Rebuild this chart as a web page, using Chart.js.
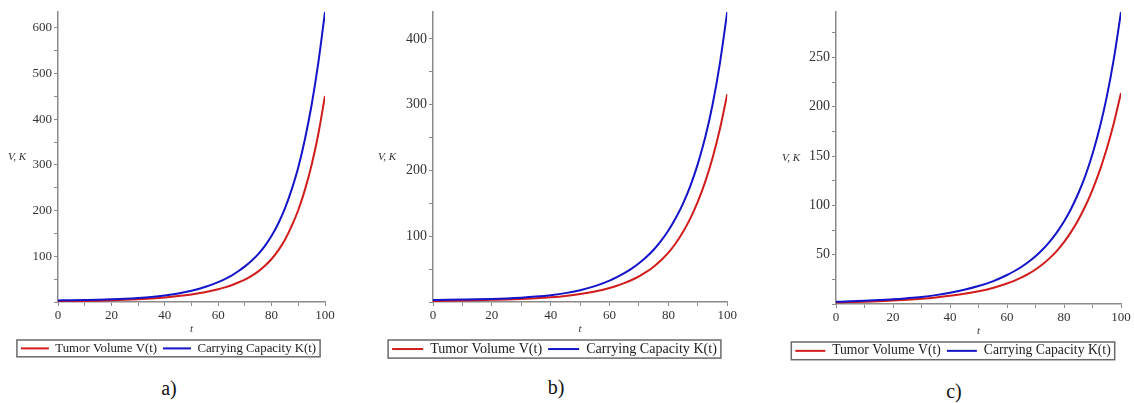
<!DOCTYPE html>
<html>
<head>
<meta charset="utf-8">
<script src="https://cdn.jsdelivr.net/npm/chart.js@4/dist/chart.umd.min.js"></script>
<style>
  body { margin: 0; background: #fff; width: 1134px; height: 403px; position: relative; overflow: hidden; font-family: "Liberation Serif", serif; }
  .panel { position: absolute; top: 0; }
  .caption { position: absolute; width: 40px; text-align: center; font-size: 20px; line-height: 20px; color: #111; }
</style>
</head>
<body>
<div class="panel" style="left:0px;width:337px;height:360px"><canvas id="chartA"></canvas></div>
<div class="panel" style="left:370px;width:369px;height:360px"><canvas id="chartB"></canvas></div>
<div class="panel" style="left:770px;width:364px;height:362px"><canvas id="chartC"></canvas></div>
<div class="caption" style="left:149px;top:378px">a)</div>
<div class="caption" style="left:536px;top:377px">b)</div>
<div class="caption" style="left:934px;top:381px">c)</div>
<script>
// time grid (t) shared by all three panels
const tValues = [0, 5, 10, 15, 20, 25, 30, 35, 40, 45, 50, 55, 60, 62.5, 65, 67.5, 70, 72.5, 75, 77.5, 80, 82.5, 85, 87.5, 90, 92.5, 95, 97.5, 100];

// panel a)
const capacityA = [3.5, 3.9, 4.4, 5.0, 5.9, 7.0, 8.6, 10.8, 14, 18.5, 24.5, 32.7, 43.5, 50.3, 58, 67.3, 78, 90.5, 105, 123, 145, 172, 205, 246, 295, 357, 432, 524, 635];
const volumeA = [1.5, 1.9, 2.4, 3.0, 3.8, 4.8, 6.15, 7.8, 10.0, 12.9, 16.6, 21.5, 28, 32.1, 36.8, 42.6, 49.2, 57.4, 67, 79.4, 94.2, 113, 136.4, 166, 201.5, 246, 300.6, 368, 451];

// panel b)
const capacityB = [3.1, 3.35, 3.7, 4.1, 4.7, 5.5, 6.6, 8.2, 10.4, 13.5, 18.0, 24.2, 32.6, 37.8, 43.8, 50.7, 58.9, 68.4, 79.5, 92.9, 108.7, 127.6, 150, 177, 210, 250, 300, 363, 441];
const volumeB = [1.6, 1.9, 2.3, 2.75, 3.3, 3.9, 4.7, 5.8, 7.3, 9.3, 12.1, 16.0, 21.4, 24.8, 28.8, 33.5, 39.1, 45.7, 53.7, 63.4, 75.1, 89.4, 106.7, 127.5, 152.6, 182.7, 219, 263, 316];

// panel c)
const capacityC = [2.2, 2.7, 3.3, 4.0, 4.8, 5.9, 7.2, 9.0, 11.4, 14.4, 18.2, 23, 29.4, 33.2, 37.5, 42.5, 48.4, 55.2, 63.2, 72.6, 83.6, 96.6, 112, 130.2, 152.1, 178.3, 210, 248.7, 296];
const volumeC = [1.6, 2.0, 2.4, 2.9, 3.6, 4.4, 5.4, 6.7, 8.3, 10.3, 12.9, 16.3, 20.8, 23.5, 26.7, 30.5, 35, 40.3, 46.5, 53.9, 62.7, 73.1, 85.2, 99.3, 115.8, 135, 157.4, 183.5, 214];

// ticks
const xTicks = [0, 10, 20, 30, 40, 50, 60, 70, 80, 90, 100];
const xTickLabels = [0, 20, 40, 60, 80, 100];
const yTicksA = [0, 50, 100, 150, 200, 250, 300, 350, 400, 450, 500, 550, 600];
const yTickLabelsA = [100, 200, 300, 400, 500, 600];
const yTicksB = [0, 50, 100, 150, 200, 250, 300, 350, 400];
const yTickLabelsB = [100, 200, 300, 400];
const yTicksC = [0, 25, 50, 75, 100, 125, 150, 175, 200, 225, 250, 275];
const yTickLabelsC = [50, 100, 150, 200, 250];

const RED = "#d21c1c";
const BLUE = "#1414c8";
const AXIS = "#8a8a8a";
const TEXT = "#333";
const serif = '"Liberation Serif", "Times New Roman", serif';

// legend frame + horizontal "V, K" label
const frameAndLabel = {
  id: "frameAndLabel",
  afterDraw(chart, args, opts) {
    const ctx = chart.ctx;
    const boxes = chart.legend.legendHitBoxes;
    const left = Math.min(...boxes.map(b => b.left)) - 4;
    const right = Math.max(...boxes.map(b => b.left + b.width)) + 4;
    const top = boxes[0].top - 2;
    const bottom = boxes[0].top + boxes[0].height + 2;
    ctx.save();
    ctx.strokeStyle = "#6a6a6a";
    ctx.lineWidth = 1.5;
    ctx.strokeRect(left, top, right - left, bottom - top);
    ctx.font = "italic 11px " + serif;
    ctx.fillStyle = TEXT;
    ctx.textAlign = "left";
    ctx.textBaseline = "middle";
    const area = chart.chartArea;
    ctx.fillText("V, K", opts.labelX, (area.top + area.bottom) / 2);
    ctx.restore();
  }
};

function makeChart(id, capacity, volume, yTicks, yLabels, layout) {
  const ctx = document.getElementById(id).getContext("2d");
  return new Chart(ctx, {
    type: "line",
    data: {
      labels: tValues,
      datasets: [{
        label: "Carrying Capacity K(t)",
        data: capacity,
        borderColor: BLUE,
        backgroundColor: BLUE,
        borderWidth: 2,
        pointRadius: 0,
        cubicInterpolationMode: "monotone"
      }, {
        label: "Tumor Volume V(t)",
        data: volume,
        borderColor: RED,
        backgroundColor: RED,
        borderWidth: 2,
        pointRadius: 0,
        cubicInterpolationMode: "monotone"
      }]
    },
    options: {
      responsive: true,
      maintainAspectRatio: false,
      animation: false,
      layout: {
        padding: { top: 12, bottom: 0, left: layout.padLeft, right: layout.padRight }
      },
      scales: {
        x: {
          type: "linear",
          min: 0,
          max: 100,
          afterBuildTicks: s => { s.ticks = xTicks.map(v => ({ value: v })); },
          afterFit: s => { s.height = 34; },
          ticks: {
            autoSkip: false,
            maxRotation: 0,
            padding: 2,
            color: TEXT,
            font: { family: serif, size: 13 },
            callback: v => xTickLabels.includes(v) ? v : ""
          },
          grid: { drawOnChartArea: false, tickLength: 4, color: AXIS },
          border: { color: AXIS, width: 1.5 },
          title: {
            display: true,
            text: "t",
            color: TEXT,
            font: { family: serif, size: 11, style: "italic" },
            padding: { top: 0, bottom: 0 }
          }
        },
        y: {
          min: 0,
          max: Math.max(...capacity),
          afterBuildTicks: s => { s.ticks = yTicks.map(v => ({ value: v })); },
          afterFit: s => { s.width = layout.yWidth; },
          ticks: {
            autoSkip: false,
            padding: 2,
            color: TEXT,
            font: { family: serif, size: layout.tickSize },
            callback: v => yLabels.includes(v) ? v : ""
          },
          grid: { drawOnChartArea: false, tickLength: 4, color: AXIS },
          border: { color: AXIS, width: 1.5 }
        }
      },
      plugins: {
        legend: {
          position: "bottom",
          maxHeight: 24,
          labels: {
            usePointStyle: true,
            pointStyle: "line",
            pointStyleWidth: layout.sample,
            padding: 6,
            color: "#222",
            font: { family: serif, size: layout.legendSize },
            sort: (a, b) => b.datasetIndex - a.datasetIndex
          }
        },
        tooltip: { enabled: false },
        frameAndLabel: { labelX: layout.labelX }
      }
    },
    plugins: [frameAndLabel]
  });
}

makeChart("chartA", capacityA, volumeA, yTicksA, yTickLabelsA,
  { padLeft: 12, padRight: 12, yWidth: 46, labelX: 8, tickSize: 13, legendSize: 12.8, sample: 28 });
makeChart("chartB", capacityB, volumeB, yTicksB, yTickLabelsB,
  { padLeft: 11, padRight: 11, yWidth: 52, labelX: 8, tickSize: 14, legendSize: 14.1, sample: 31 });
makeChart("chartC", capacityC, volumeC, yTicksC, yTickLabelsC,
  { padLeft: 15, padRight: 13, yWidth: 51, labelX: 12, tickSize: 14, legendSize: 13.7, sample: 30 });
</script>
</body>
</html>
